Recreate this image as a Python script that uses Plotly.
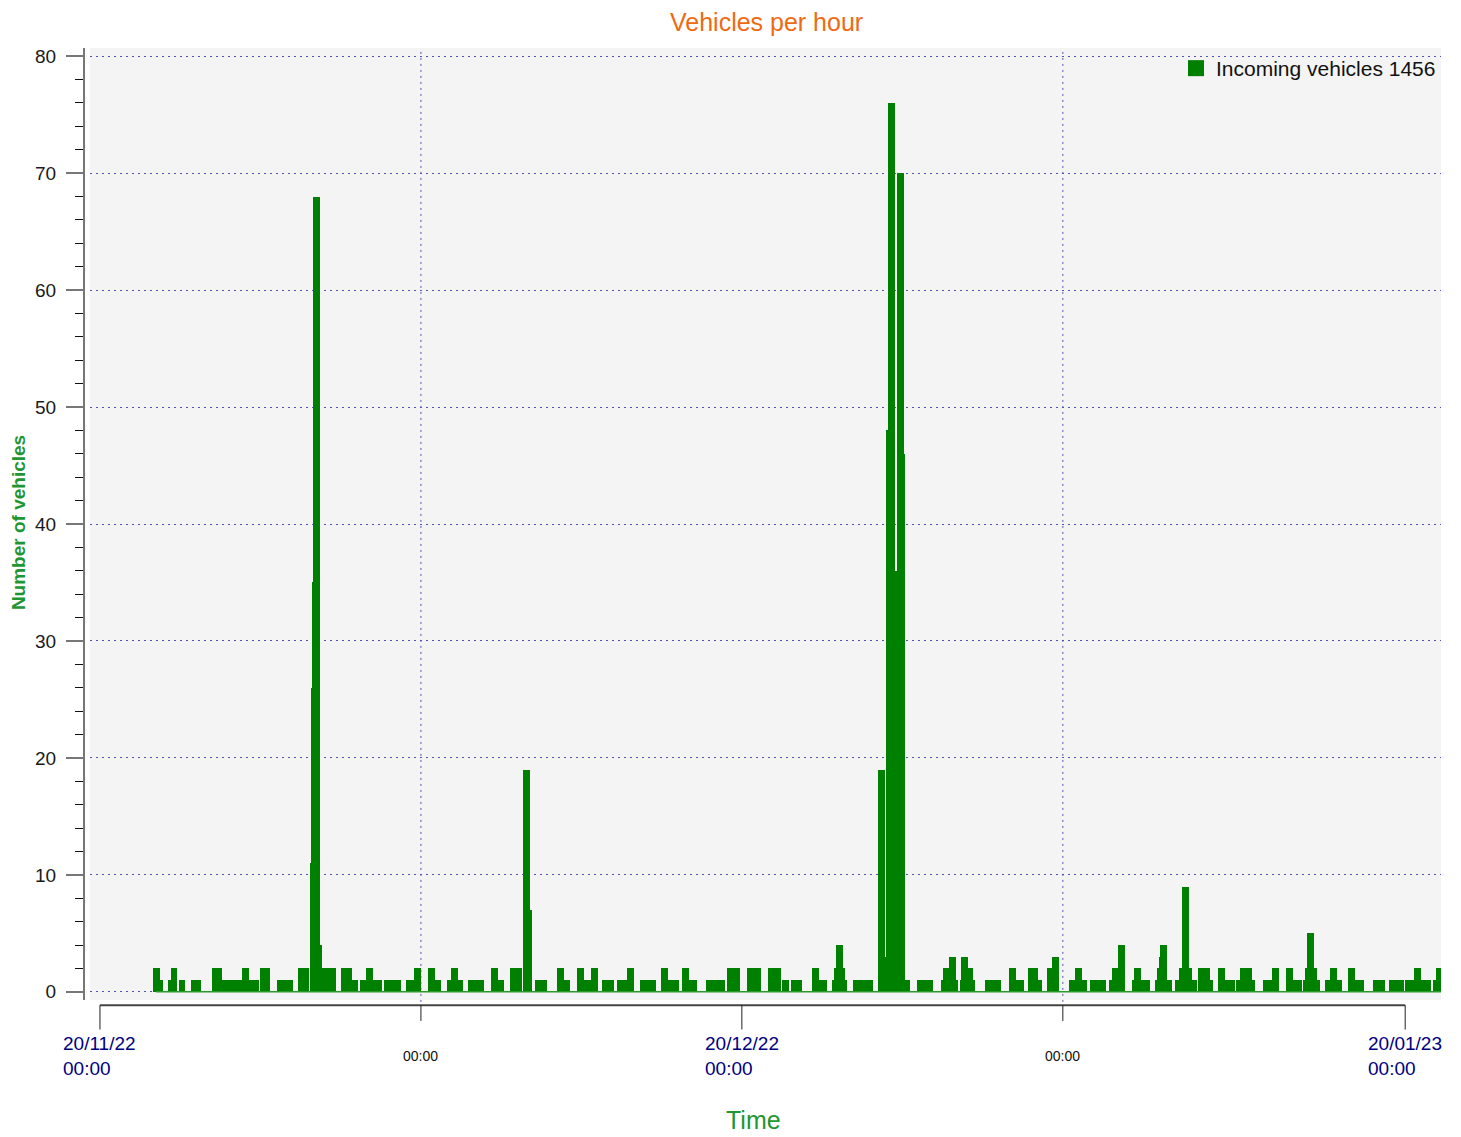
import pandas as pd
import plotly.graph_objects as go

# ---------------- data ----------------
start = pd.Timestamp("2022-11-20 00:00")

hours = [
    63, 67, 80, 83, 92, 106, 109, 129, 133, 141, 144, 152, 157, 163, 170, 175, 183, 187,
    203, 208, 213, 226, 230, 239, 240, 241, 242, 243, 245, 248, 253, 256, 261, 274, 279,
    286, 296, 302, 308, 312, 322, 327, 334, 347, 351, 356, 372, 379, 393, 398, 403, 417,
    422, 427, 442, 449, 464, 469, 478, 481, 492, 498, 517, 523, 539, 547, 555, 567, 573,
    584, 589, 595, 610, 617, 620, 633, 638, 646, 657, 662, 666, 684, 689, 697, 707, 714,
    730, 737, 753, 760, 769, 779, 784, 803, 807, 811, 825, 827, 829, 832, 834, 849, 855,
    861, 863, 876, 877, 879, 886, 888, 889, 896, 898, 899, 905, 920, 925, 930, 947, 950,
    956, 958, 968, 970, 975, 978, 997, 1002, 1007, 1023, 1029, 1033, 1045, 1048, 1053,
    1066, 1072, 1091, 1098, 1103, 1114, 1119, 1125, 1136, 1139, 1146, 1161, 1164, 1171,
    1174, 1187, 1189, 1192, 1193, 1199, 1210, 1214, 1218, 1221, 1226, 1235, 1241, 1244,
    1258, 1265, 1269, 1278, 1283, 1288, 1292, 1308, 1311, 1319, 1334, 1339, 1344, 1353,
    1356, 1358, 1361, 1364, 1378, 1384, 1389, 1404, 1410, 1414, 1432, 1437, 1450, 1455,
    1459, 1468, 1473, 1478, 1483, 1489, 1499, 1502,
]

counts = [
    2, 1, 1, 2, 1, 1, 1, 2, 2, 1, 1, 1, 1, 2, 1, 1, 2, 2,
    1, 1, 1, 2, 2, 4, 11, 26, 35, 68, 4, 2, 2, 2, 2, 2, 2,
    1, 1, 2, 1, 1, 1, 1, 1, 1, 1, 2, 2, 1, 1, 2, 1, 1,
    1, 1, 2, 1, 2, 2, 19, 7, 1, 1, 2, 1, 2, 1, 2, 1, 1,
    1, 1, 2, 1, 1, 1, 2, 1, 1, 2, 1, 1, 1, 1, 1, 2, 2,
    2, 2, 2, 2, 1, 1, 1, 2, 1, 1, 1, 2, 4, 2, 1, 1, 1,
    1, 1, 5, 19, 3, 48, 76, 30, 36, 70, 46, 1, 1, 1, 1, 1, 2,
    3, 1, 1, 3, 2, 1, 1, 1, 1, 2, 1, 1, 2, 2, 1,
    2, 3, 1, 2, 1, 1, 1, 1, 1, 2, 4, 1, 2, 1,
    1, 1, 2, 3, 4, 1, 1, 2, 9, 2, 1, 2, 2, 1,
    2, 1, 1, 1, 2, 2, 1, 1, 1, 2, 2, 1, 1, 1,
    2, 5, 2, 1, 1, 2, 1, 2, 1, 1, 1, 1, 1, 1,
    1, 1, 1, 2, 1, 1, 1, 2,
]

series_name = "Incoming vehicles 1456"
chart_title = "Vehicles per hour"
y_title = "Number of vehicles"
x_title = "Time"

major_ticks = ["2022-11-20 00:00", "2022-12-20 00:00", "2023-01-20 00:00"]
major_labels = ["20/11/22<br>00:00", "20/12/22<br>00:00", "20/01/23<br>00:00"]
minor_ticks = ["2022-12-05 00:00", "2023-01-04 00:00"]
minor_labels = ["00:00", "00:00"]
y_ticks = list(range(0, 81, 10))
x_range = ["2022-11-19 12:48", "2023-01-21 16:10"]
y_range = [-0.7, 80.7]

times = [start + pd.Timedelta(hours=h) for h in hours]

# ---------------- styles ----------------
FONT = "Liberation Sans, Arial, sans-serif"
GREEN = "#008000"
GRID = "#5252b4"
GRID_DASH = "2px,4px"
BAR_WIDTH_MS = 7.8 * 3600 * 1000

fig = go.Figure()

fig.add_trace(go.Bar(
    x=times, y=counts, width=BAR_WIDTH_MS,
    marker=dict(color=GREEN, line=dict(width=0)),
    showlegend=False, name=series_name,
))

# baseline line of the series
fig.add_trace(go.Scatter(
    x=[times[0], pd.Timestamp(x_range[1])], y=[0, 0], mode="lines",
    line=dict(color="#2a9a2a", width=1.5), showlegend=False, hoverinfo="skip",
))

# legend entry
fig.add_trace(go.Scatter(
    x=[None], y=[None], mode="markers", name=series_name,
    marker=dict(symbol="square", size=16, color=GREEN),
))

shapes = []
for t in minor_ticks:
    shapes.append(dict(type="line", xref="x", yref="paper", x0=t, x1=t, y0=-0.002, y1=1,
                       line=dict(color=GRID, width=1, dash=GRID_DASH), layer="below"))
AXIS_Y = -0.0055
shapes.append(dict(type="line", xref="x", yref="paper", x0=major_ticks[0], x1=major_ticks[-1],
                   y0=AXIS_Y, y1=AXIS_Y, line=dict(color="#444444", width=2)))
for t in major_ticks:
    shapes.append(dict(type="line", xref="x", yref="paper", x0=t, x1=t, y0=AXIS_Y, y1=-0.031,
                       line=dict(color="#222222", width=1)))
for t in minor_ticks:
    shapes.append(dict(type="line", xref="x", yref="paper", x0=t, x1=t, y0=AXIS_Y, y1=-0.022,
                       line=dict(color="#222222", width=1)))

annotations = []
for t, lab in zip(major_ticks, major_labels):
    annotations.append(dict(x=t, xref="x", y=-0.0325, yref="paper", text=lab, showarrow=False,
                            xanchor="center", yanchor="top", align="left",
                            font=dict(family=FONT, size=19, color="#000080")))
for t, lab in zip(minor_ticks, minor_labels):
    annotations.append(dict(x=t, xref="x", y=-0.0588, yref="paper", text=lab, showarrow=False,
                            xanchor="center", yanchor="middle",
                            font=dict(family=FONT, size=14, color="#111111")))
annotations.append(dict(x=-0.0486, xref="paper", y=0.501, yref="paper", text="<b>%s</b>" % y_title,
                        showarrow=False, textangle=-90, xanchor="center", yanchor="middle",
                        font=dict(family=FONT, size=19, color="#1e9632")))
annotations.append(dict(x=0.493, xref="paper", y=-0.126, yref="paper", text=x_title,
                        showarrow=False, xanchor="center", yanchor="middle",
                        font=dict(family=FONT, size=25, color="#1e9632")))

fig.update_layout(
    width=1461, height=1137,
    margin=dict(l=84, r=20, t=48, b=137),
    paper_bgcolor="white", plot_bgcolor="#f4f4f4",
    barmode="overlay", bargap=0,
    title=dict(text=chart_title, x=0.503, xref="paper", xanchor="center",
               y=1 - 22 / 1137, yref="container", yanchor="middle",
               font=dict(family=FONT, size=25, color="#ee6a12")),
    xaxis=dict(type="date", range=x_range, domain=[0.0044, 1],
               showgrid=False, zeroline=False, showline=False,
               showticklabels=False, ticks=""),
    yaxis=dict(range=y_range, tickvals=y_ticks, anchor="free", position=0,
               showgrid=True, gridcolor=GRID, griddash=GRID_DASH, gridwidth=1,
               zeroline=False, showline=True, linecolor="#777777", linewidth=2,
               ticks="outside", ticklen=17, tickwidth=2, tickcolor="#777777",
               ticklabelstandoff=6,
               tickfont=dict(family=FONT, size=19, color="#1a1a1a"),
               minor=dict(dtick=2, ticks="outside", ticklen=8, tickwidth=1,
                          tickcolor="#111111", showgrid=False)),
    legend=dict(x=1, xanchor="right", y=1, yanchor="top", bgcolor="rgba(0,0,0,0)",
                font=dict(family=FONT, size=21, color="#111111"),
                itemclick=False),
    shapes=shapes, annotations=annotations,
    showlegend=True,
)

fig.write_html("out.html", config={"displayModeBar": False},
               post_script="document.body.style.margin='0';")
